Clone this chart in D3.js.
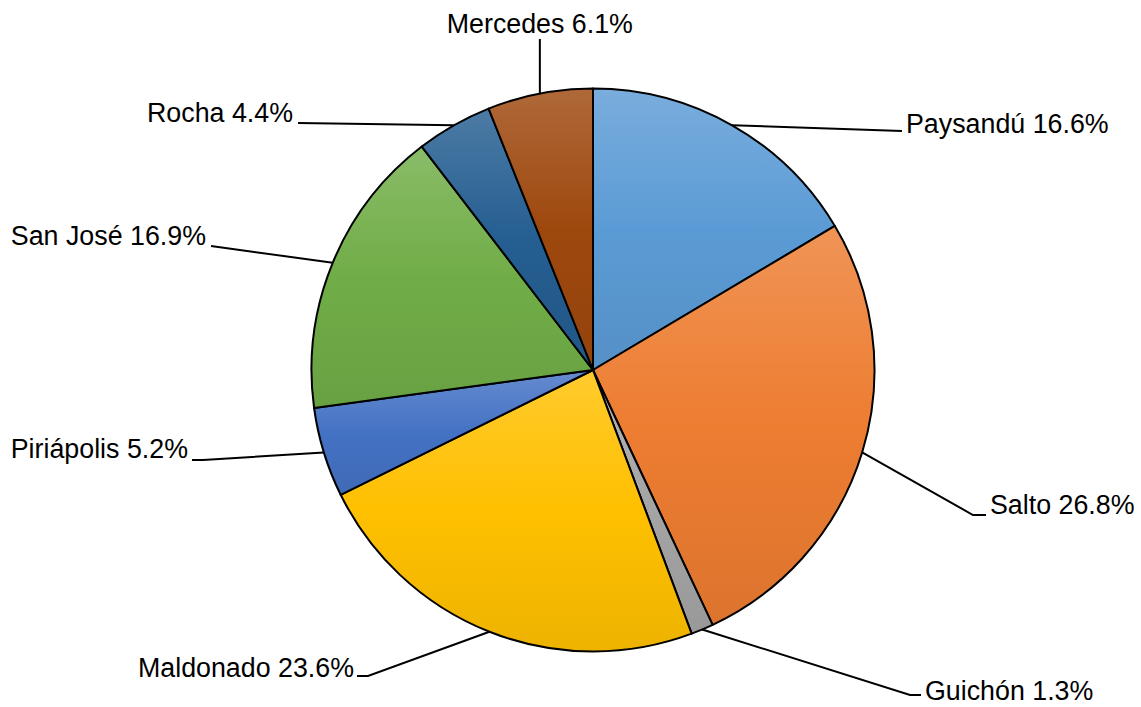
<!DOCTYPE html>
<html>
<head>
<meta charset="utf-8">
<script src="https://cdn.jsdelivr.net/npm/d3@7"></script>
<style>
  html, body { margin: 0; padding: 0; background: #ffffff; }
  svg { display: block; }
</style>
</head>
<body>
<svg id="chart" width="1141" height="707"></svg>
<script>
// ---- data ----
const categories = ["Paysandú", "Salto", "Guichón", "Maldonado", "Piriápolis", "San José", "Rocha", "Mercedes"];
const values = [16.6, 26.8, 1.3, 23.6, 5.2, 16.9, 4.4, 6.1];
const labelTexts = ["Paysandú 16.6%", "Salto 26.8%", "Guichón 1.3%", "Maldonado 23.6%", "Piriápolis 5.2%", "San José 16.9%", "Rocha 4.4%", "Mercedes 6.1%"];
const colors = ["#5b9bd5", "#ed7d31", "#a5a5a5", "#ffc000", "#4472c4", "#70ad47", "#255e91", "#9e480e"];

// ---- layout (label placement) ----
const labelLayout = [
  { anchor: "start",  tx: 906, ty: 133, pts: [[902, 131]] },
  { anchor: "start",  tx: 990, ty: 514, pts: [[973, 515], [986, 515]] },
  { anchor: "start",  tx: 925, ty: 700, pts: [[910, 695], [921, 695]] },
  { anchor: "end",    tx: 354, ty: 677, pts: [[368, 676], [357, 676]] },
  { anchor: "end",    tx: 188, ty: 458, pts: [[203, 460], [192, 460]] },
  { anchor: "end",    tx: 206, ty: 245, pts: [[211, 246]] },
  { anchor: "end",    tx: 293, ty: 122, pts: [[298, 123]] },
  { anchor: "middle", tx: 540, ty: 33,  pts: "vertical", topY: 39 }
];

const cx = 593, cy = 370, R = 281.5;
const svg = d3.select("#chart");

const defs = svg.append("defs");
colors.forEach((c, i) => {
  const g = defs.append("linearGradient")
    .attr("id", "grad" + i)
    .attr("x1", 0).attr("y1", 0).attr("x2", 0).attr("y2", 1);
  g.append("stop").attr("offset", "0%").attr("stop-color", d3.interpolateRgb(c, "#ffffff")(0.18));
  g.append("stop").attr("offset", "50%").attr("stop-color", c);
  g.append("stop").attr("offset", "100%").attr("stop-color", d3.interpolateRgb(c, "#000000")(0.07));
});

const pie = d3.pie().sort(null).value(d => d)(values);
const arc = d3.arc().innerRadius(0).outerRadius(R);

const g = svg.append("g").attr("transform", `translate(${cx},${cy})`);
g.selectAll("path.slice")
  .data(pie)
  .join("path")
  .attr("class", "slice")
  .attr("d", arc)
  .attr("fill", (d, i) => `url(#grad${i})`)
  .attr("stroke", "#000")
  .attr("stroke-width", 2)
  .attr("stroke-linejoin", "round");

// leader lines and labels
const edgePoint = d => {
  const a = (d.startAngle + d.endAngle) / 2;
  return [cx + R * Math.sin(a), cy - R * Math.cos(a)];
};

const line = d3.line();
pie.forEach((d, i) => {
  const L = labelLayout[i];
  const e = edgePoint(d);
  let pts;
  if (L.pts === "vertical") {
    pts = [e, [e[0], L.topY]];
  } else {
    pts = [e].concat(L.pts);
  }
  svg.append("path")
    .attr("d", line(pts))
    .attr("fill", "none")
    .attr("stroke", "#000")
    .attr("stroke-width", 2);
  const tx = L.pts === "vertical" ? e[0] : L.tx;
  svg.append("text")
    .attr("x", tx)
    .attr("y", L.ty)
    .attr("text-anchor", L.anchor)
    .attr("font-family", "'Liberation Sans', Arial, sans-serif")
    .attr("font-size", 26.8)
    .attr("fill", "#000")
    .text(labelTexts[i]);
});
</script>
</body>
</html>
